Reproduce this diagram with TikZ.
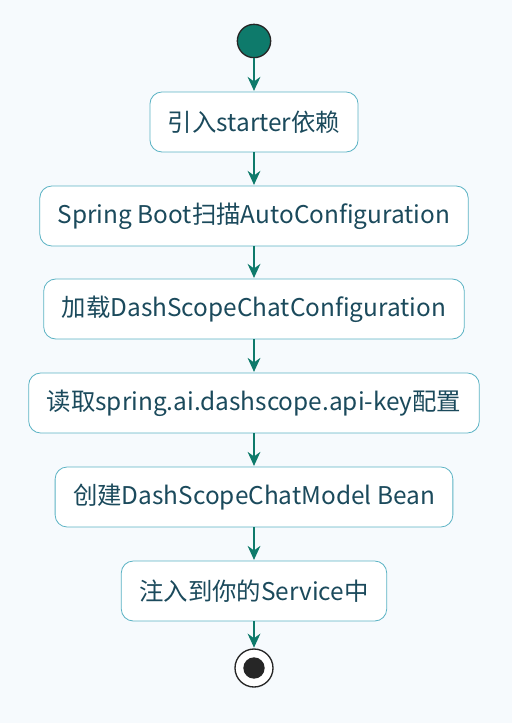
\documentclass[tikz,border=0pt]{standalone}
\usepackage{fontspec}
\setmainfont{Noto Sans CJK SC}
\usetikzlibrary{arrows.meta}

\definecolor{bgcol}{HTML}{F6FAFD}
\definecolor{boxline}{HTML}{5BB3C4}
\definecolor{txtcol}{HTML}{1B4A5C}
\definecolor{flowcol}{HTML}{0E7A6B}

\begin{document}
\begin{tikzpicture}[
    x=0.75pt, y=-0.75pt,
    >={Stealth[length=10.5pt,width=9.5pt]},
    font=\fontsize{18.3pt}{21pt}\selectfont,
    stepbox/.style={draw=boxline, fill=white, rounded corners=9pt,
        minimum height=45pt, inner xsep=13.5pt, text=txtcol, line width=0.6pt},
    flow/.style={->, draw=flowcol, line width=1.6pt, shorten >=0.5pt}
]

    % Background and margins
    \fill[bgcol] (0,0) rectangle (512,723);
    \useasboundingbox (0,0) rectangle (512,723);

    % Start
    \node (start) at (254,41) [circle, draw=black!85, fill=flowcol,
        minimum size=25pt, inner sep=0pt, line width=1pt] {};

    % Steps
    \node (s1) at (254,122) [stepbox] {引入starter依赖};
    \node (s2) at (254,216) [stepbox] {Spring Boot扫描AutoConfiguration};
    \node (s3) at (254,309) [stepbox] {加载DashScopeChatConfiguration};
    \node (s4) at (254,403) [stepbox] {读取spring.ai.dashscope.api-key配置};
    \node (s5) at (254,497) [stepbox] {创建DashScopeChatModel Bean};
    \node (s6) at (254,591) [stepbox] {注入到你的Service中};

    % End
    \node (stop) at (254,668) [circle, draw=black!85, fill=white,
        minimum size=28.5pt, inner sep=0pt, line width=1pt] {};
    \node (stopdot) at (254,668) [circle, fill=black!85,
        minimum size=16pt, inner sep=0pt] {};

    % Connectors
    \draw[flow] (start) -- (s1);
    \draw[flow] (s1) -- (s2);
    \draw[flow] (s2) -- (s3);
    \draw[flow] (s3) -- (s4);
    \draw[flow] (s4) -- (s5);
    \draw[flow] (s5) -- (s6);
    \draw[flow] (s6) -- (stop);

\end{tikzpicture}
\end{document}
